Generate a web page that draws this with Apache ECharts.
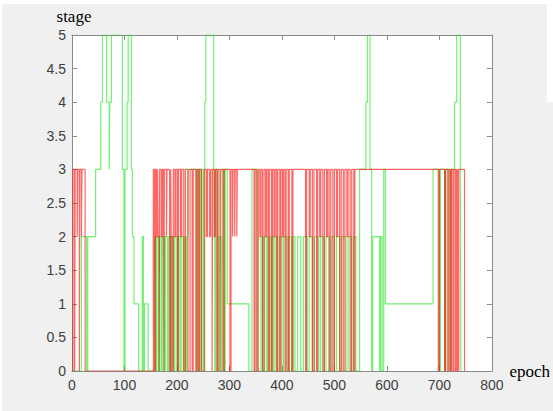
<!DOCTYPE html>
<html>
<head>
<meta charset="utf-8">
<script src="https://cdn.jsdelivr.net/npm/echarts@6/dist/echarts.min.js"></script>
<style>
html,body{margin:0;padding:0;background:#fff;}
#c{width:553px;height:411px;}
</style>
</head>
<body>
<div id="c"></div>
<script>
// Tick labels
var xTicks = [0, 100, 200, 300, 400, 500, 600, 700, 800];
var yTicks = [0, 0.5, 1, 1.5, 2, 2.5, 3, 3.5, 4, 4.5, 5];

// Red series: epochs where the stage changes, and the stage from that epoch on
var redEpochs = [0,2,5,6,10,11,14,15,18,19,25,
  155,157,159,161,163,164,166,167,170,172,174,175,176,180,181,183,186,188,189,191,193,196,198,201,203,207,209,213,216,221,225,229,231,236,238,241,243,247,
  252,256,258,262,264,267,268,271,273,276,278,282,283,288,290,301,303,306,307,310,311,314,315,
  347,349,352,355,358,360,363,366,369,371,374,376,380,382,385,387,390,392,396,398,401,403,406,408,412,414,419,421,
  445,447,452,454,458,461,466,468,472,474,478,481,485,487,490,493,497,500,504,506,510,513,517,520,524,526,530,533,537,539,
  698,700,710,712,716,718,721,723,726,728,731,733,735,737,748];
var redStages = [0,3,0,3,2,3,0,3,2,3,0,
  3,0,3,2,3,2,0,3,2,3,2,0,3,2,3,3,0,3,2,0,3,2,3,0,3,2,3,0,3,0,3,0,3,0,3,0,3,0,
  3,2,3,2,3,0,3,2,3,0,3,0,3,0,3,0,3,2,3,2,3,2,3,
  0,3,0,3,2,3,0,3,2,3,0,3,0,3,2,3,0,3,0,3,2,3,0,3,0,3,0,3,
  0,3,2,3,0,3,0,3,2,3,0,3,2,3,0,3,0,3,2,3,0,3,0,3,2,3,0,3,0,3,
  0,3,0,3,0,3,0,3,0,3,0,3,0,3,0];

// Green series: epochs where the stage changes, and the stage from that epoch on
var greenEpochs = [0,18,28,30,45,55,58,66,71,72,75,96,99,101,105,107,113,115,118,127,134,136,138,145,
  158,160,162,165,167,170,172,176,178,182,184,188,190,194,196,200,202,206,208,212,214,217,219,221,238,240,244,246,250,253,255,270,272,274,278,280,284,286,290,292,296,337,
  343,353,360,363,366,370,373,377,380,384,387,391,395,400,403,410,413,418,421,425,430,436,441,448,452,458,462,470,474,480,484,490,494,500,504,510,514,522,526,532,536,541,
  548,560,563,568,571,573,586,588,591,594,597,688,700,702,710,712,720,722,729,733,740,741];
var greenStages = [0,2,0,2,3,4,5,4,3,4,5,3,0,3,4,5,3,2,1,0,2,0,1,0,
  2,0,2,0,2,0,2,0,2,0,2,0,2,0,2,0,2,0,2,0,2,0,2,3,0,3,0,3,0,4,5,3,0,3,0,2,0,3,0,3,1,0,
  3,0,2,0,2,0,2,0,2,0,2,0,2,0,2,0,2,0,2,0,2,0,2,0,2,0,2,0,2,0,2,0,2,0,2,0,2,0,2,0,2,0,
  3,4,5,3,0,2,0,2,0,3,1,3,0,3,0,3,0,3,4,5,3,0];

function pairs(xs, ys) {
  var out = [];
  for (var i = 0; i < xs.length; i++) out.push([xs[i], ys[i]]);
  return out;
}

var chart = echarts.init(document.getElementById('c'), null, {renderer: 'svg'});
var axisColor = '#8a8a8a';
var labelColor = '#404040';
var tickFont = 'Liberation Sans, Arial, sans-serif';

chart.setOption({
  animation: false,
  backgroundColor: 'transparent',
  graphic: [
    {type: 'rect', z: -100, shape: {x: 2, y: 4, width: 545, height: 98}, style: {fill: '#f0f0f0'}},
    {type: 'rect', z: -100, shape: {x: 2, y: 102, width: 551, height: 309}, style: {fill: '#f0f0f0'}}
  ],
  grid: {left: 72, right: 55, top: 35, bottom: 40, show: true, backgroundColor: '#ffffff', borderWidth: 0, containLabel: false},
  xAxis: [{
    type: 'value', min: xTicks[0], max: xTicks[xTicks.length - 1], interval: 100, position: 'bottom',
    name: 'epoch', nameLocation: 'end', nameGap: -4,
    nameTextStyle: {fontFamily: 'Liberation Serif, Times New Roman, serif', fontSize: 17, color: '#000', verticalAlign: 'middle'},
    axisLine: {show: true, onZero: false, lineStyle: {color: axisColor, width: 1}},
    axisTick: {show: true, inside: true, length: 5, lineStyle: {color: axisColor}},
    axisLabel: {show: true, margin: 7, color: labelColor, fontSize: 14, fontFamily: tickFont},
    splitLine: {show: false}
  }, {
    type: 'value', min: xTicks[0], max: xTicks[xTicks.length - 1], interval: 100, position: 'top',
    axisLine: {show: true, onZero: false, lineStyle: {color: axisColor, width: 1}},
    axisTick: {show: true, inside: true, length: 5, lineStyle: {color: axisColor}},
    axisLabel: {show: false}, splitLine: {show: false}
  }],
  yAxis: [{
    type: 'value', min: yTicks[0], max: yTicks[yTicks.length - 1], interval: 0.5, position: 'left',
    name: 'stage', nameLocation: 'end', nameGap: 10,
    nameTextStyle: {fontFamily: 'Liberation Serif, Times New Roman, serif', fontSize: 17, color: '#000', align: 'center', padding: [0, 0, 0, 4]},
    axisLine: {show: true, onZero: false, lineStyle: {color: axisColor, width: 1}},
    axisTick: {show: true, inside: true, length: 5, lineStyle: {color: axisColor}},
    axisLabel: {show: true, margin: 6, color: labelColor, fontSize: 14, fontFamily: tickFont},
    splitLine: {show: false}
  }, {
    type: 'value', min: yTicks[0], max: yTicks[yTicks.length - 1], interval: 0.5, position: 'right',
    axisLine: {show: true, onZero: false, lineStyle: {color: axisColor, width: 1}},
    axisTick: {show: true, inside: true, length: 5, lineStyle: {color: axisColor}},
    axisLabel: {show: false}, splitLine: {show: false}
  }],
  series: [{
    type: 'line', name: 'green', step: 'end', showSymbol: false, symbol: 'none',
    xAxisIndex: 0, yAxisIndex: 0,
    data: pairs(greenEpochs, greenStages),
    lineStyle: {color: 'rgba(0,230,0,0.55)', width: 1.2}
  }, {
    type: 'line', name: 'red', step: 'end', showSymbol: false, symbol: 'none',
    xAxisIndex: 0, yAxisIndex: 0,
    data: pairs(redEpochs, redStages),
    lineStyle: {color: 'rgba(255,0,0,0.6)', width: 1.2}
  }]
});
</script>
</body>
</html>
